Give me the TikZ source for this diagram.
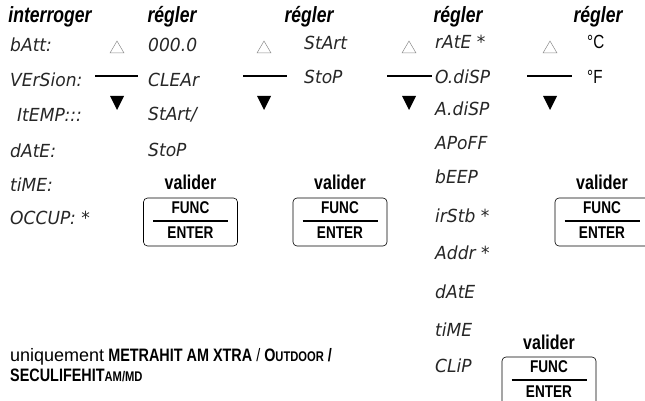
\documentclass[tikz,border=0pt]{standalone}
\usepackage{fontspec}
\setmainfont{Liberation Sans}
\newfontfamily\condfont[FakeStretch=0.80]{Liberation Sans}
\newfontfamily\segfont[FakeStretch=0.95]{DejaVu Sans}
\begin{document}
\begin{tikzpicture}[x=1pt,y=-1pt,
  head/.style={font=\condfont\bfseries\itshape\fontsize{22}{24}\selectfont, inner sep=0pt},
  seg/.style={font=\segfont\itshape\fontsize{18}{20}\selectfont, anchor=west, inner sep=0pt, text=black!85},
  val/.style={font=\condfont\bfseries\fontsize{20}{22}\selectfont, inner sep=0pt},
  keybox/.style={draw, rounded corners=4pt, line width=0.6pt, minimum width=94pt, minimum height=48pt, inner sep=0pt},
  keytxt/.style={font=\condfont\bfseries\fontsize{17}{19}\selectfont, inner sep=0pt},
  sep/.style={line width=2pt},
  uptri/.style={draw=black!45, line width=0.5pt},
  dntri/.style={fill=black}
]
\useasboundingbox (0,0) rectangle (645,401);
% headings
\node[head] (h0) at (50,17) {interroger};
\node[head] (h1) at (172,17) {régler};
\node[head] (h2) at (309,17) {régler};
\node[head] (h3) at (458,17) {régler};
\node[head] (h4) at (598,17) {régler};
% column 0
\node[seg] (a1) at (10,45) {bAtt:};
\node[seg] (a2) at (10,80) {VErSion:};
\node[seg] (a3) at (17,115) {ItEMP:::};
\node[seg] (a4) at (10,151) {dAtE:};
\node[seg] (a5) at (10,185) {tiME:};
\node[seg] (a6) at (10,218) {OCCUP: *};
% column 1
\node[seg] (b1) at (148,45) {000.0};
\node[seg] (b2) at (148,80) {CLEAr};
\node[seg] (b3) at (148,115) {StArt/};
\node[seg] (b4) at (148,150) {StoP};
% column 2
\node[seg] (c1) at (304,43) {StArt};
\node[seg] (c2) at (304,77) {StoP};
% column 3
\node[seg] (d1) at (435,42) {rAtE *};
\node[seg] (d2) at (435,77) {O.diSP};
\node[seg] (d3) at (435,109) {A.diSP};
\node[seg] (d4) at (435,143) {APoFF};
\node[seg] (d5) at (435,177) {bEEP};
\node[seg] (d6) at (435,216) {irStb *};
\node[seg] (d7) at (435,253) {Addr *};
\node[seg] (d8) at (435,292) {dAtE};
\node[seg] (d9) at (435,330) {tiME};
\node[seg] (d10) at (435,366) {CLiP};
% column 4
\node[anchor=west, inner sep=0pt, font=\condfont\fontsize{19}{21}\selectfont] (e1) at (587,42) {°C};
\node[anchor=west, inner sep=0pt, font=\condfont\fontsize{19}{21}\selectfont] (e2) at (587,77) {°F};
% arrows / separators
\foreach \n/\x/\l/\r in {1/117/95/138, 2/264/243/287, 3/409/387/432, 4/550/527/572}{
  \draw[uptri] (\x-7,53) -- (\x+7,53) -- (\x,41) -- cycle;
  \coordinate (sl\n) at (\l,76);
  \coordinate (sr\n) at (\r,76);
  \draw[sep] (sl\n) -- (sr\n);
  \fill[dntri] (\x-7,96) -- (\x+7,96) -- (\x,110) -- cycle;
}
% valider keys
\foreach \n/\x/\y/\v in {1/190.5/222/182, 2/340/222/182, 3/602/222/182, 4/549/381/342}{
  \node[val] (v\n) at (\x,\v) {valider};
  \node[keybox] (k\n) at (\x,\y) {};
  \coordinate (kl\n) at (\x-37.5,\y-1);
  \coordinate (kr\n) at (\x+37.5,\y-1);
  \draw[line width=2pt] (kl\n) -- (kr\n);
  \node[keytxt] (f\n) at (\x,\y-14.5) {FUNC};
  \node[keytxt] (en\n) at (\x,\y+10.5) {ENTER};
}
% footnote
\node[anchor=west, inner sep=0pt, font=\condfont\fontsize{18}{20}\selectfont] (n1) at (10,357)
  {{\fontspec{Liberation Sans}uniquement} \textbf{METRAHIT AM XTRA} / \textbf{O{\fontsize{14}{16}\selectfont UTDOOR}} \textbf{/}};
\node[anchor=west, inner sep=0pt, font=\condfont\bfseries\fontsize{18}{20}\selectfont] (n2) at (10,375)
  {SECULIFEHIT{\fontsize{14}{16}\selectfont AM/MD}};
\end{tikzpicture}
\end{document}
